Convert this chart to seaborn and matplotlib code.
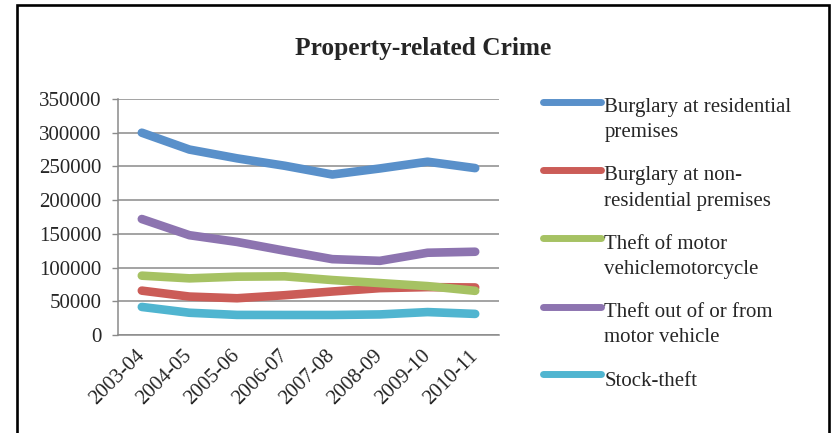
import matplotlib
matplotlib.use("Agg")
import matplotlib.pyplot as plt
from matplotlib.patches import Rectangle
import seaborn as sns
import pandas as pd

# Financial years on the horizontal axis
periods = ["2003-04", "2004-05", "2005-06", "2006-07",
           "2007-08", "2008-09", "2009-10", "2010-11"]

# Recorded cases per crime category
burglary_residential = [300000, 275000, 262000, 251000, 238000, 247000, 257000, 247500]
burglary_non_residential = [65800, 57000, 54500, 59000, 64500, 69500, 71000, 70500]
theft_motor_vehicle = [88000, 84000, 86500, 87000, 81500, 77000, 72500, 65500]
theft_from_vehicle = [172000, 148000, 138000, 125000, 112500, 110000, 122000, 123500]
stock_theft = [41600, 33000, 29800, 29700, 29700, 30500, 34000, 31300]

series_names = [
    "Burglary at residential premises",
    "Burglary at non-residential premises",
    "Theft of motor vehiclemotorcycle",
    "Theft out of or from motor vehicle",
    "Stock-theft",
]
legend_labels = [
    "Burglary at residential\npremises",
    "Burglary at non-\nresidential premises",
    "Theft of motor\nvehiclemotorcycle",
    "Theft out of or from\nmotor vehicle",
    "Stock-theft",
]
colors = ["#5990CA", "#CB5C57", "#A6C263", "#8D74B0", "#50B5D0"]

all_values = [burglary_residential, burglary_non_residential,
              theft_motor_vehicle, theft_from_vehicle, stock_theft]
df = pd.DataFrame(
    [(p, name, v) for name, vals in zip(series_names, all_values)
     for p, v in zip(periods, vals)],
    columns=["period", "series", "cases"],
)

sns.set_style("white")
plt.rcParams["font.family"] = ["Liberation Serif", "DejaVu Serif"]

W, H = 838, 433
fig = plt.figure(figsize=(W / 100, H / 100), dpi=100)
ax = fig.add_axes([118 / W, 1 - 335 / H, 381 / W, 236 / H])

sns.lineplot(data=df, x="period", y="cases", hue="series",
             hue_order=series_names, palette=colors, sort=False, ax=ax,
             linewidth=6.2, legend=False,
             solid_capstyle="round", solid_joinstyle="round")

grid_c = "#8A8A8A"
ax.set_ylim(0, 350000)
ax.set_yticks(range(0, 350001, 50000))
ax.set_xlim(-0.5, len(periods) - 0.5)
ax.set_xticks(range(len(periods)))
ax.set_xticklabels(periods, rotation=45, ha="right", va="center",
                   rotation_mode="anchor")
ax.set_xticks([i - 0.5 for i in range(len(periods) + 1)], minor=True)
ax.tick_params(axis="x", which="major", length=0, pad=13, labelsize=15)
ax.tick_params(axis="x", which="minor", length=4, width=1, color=grid_c,
               direction="out")
ax.tick_params(axis="y", length=4, width=1, color=grid_c, pad=8,
               labelsize=15, left=True)
ax.set_xlabel("")
ax.set_ylabel("")
ax.yaxis.grid(True, color=grid_c, linewidth=1.1)
ax.set_axisbelow(True)
for s in ["top", "right"]:
    ax.spines[s].set_visible(False)
for s in ["left", "bottom"]:
    ax.spines[s].set_color(grid_c)
    ax.spines[s].set_linewidth(1.1)

# Legend to the right of the plot
handles = ax.get_lines()[:len(series_names)]
leg = ax.legend(handles, legend_labels, loc="upper left",
                bbox_to_anchor=(543 / W, 1 - 98 / H),
                bbox_transform=fig.transFigure, frameon=False,
                fontsize=15, handlelength=2.8, handletextpad=0.15,
                labelspacing=1.15, borderpad=0, borderaxespad=0)
for t in leg.get_texts():
    t.set_linespacing(1.45)
for h, lab in zip(leg.legend_handles, legend_labels):
    h.set_linewidth(5.0)
    h.set_solid_capstyle("round")
    shift = 13.0 if "\n" in lab else 3.0
    y = h.get_ydata()
    h.set_ydata([v + shift for v in y])

fig.text(423 / W, 1 - 48 / H, "Property-related Crime", ha="center",
         va="center", fontsize=18.3, fontweight="bold")

# Outer chart frame
fig.patches.append(Rectangle((17 / W, -0.05), (829 - 17) / W, 1 - 5 / H + 0.05,
                             transform=fig.transFigure, fill=False,
                             edgecolor="black", linewidth=1.9))

fig.savefig("out.png", dpi=100)
